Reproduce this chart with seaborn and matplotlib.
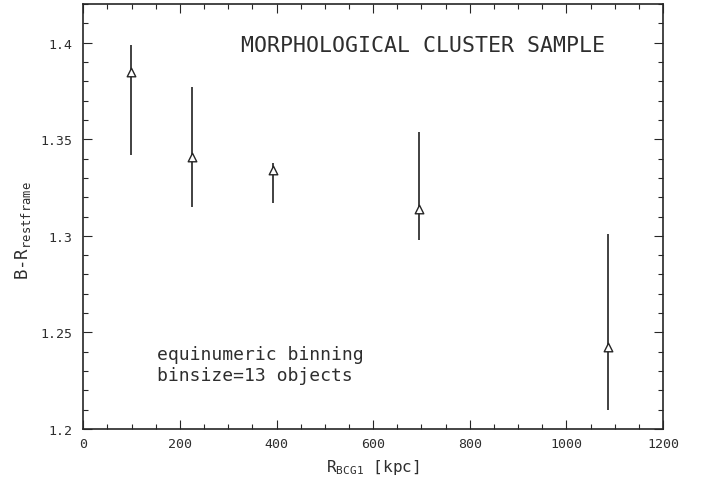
import matplotlib
matplotlib.use("Agg")
import matplotlib.pyplot as plt
from matplotlib.ticker import MultipleLocator, FixedFormatter, FixedLocator
import seaborn as sns
import pandas as pd

# Binned colour profile versus distance from the brightest cluster galaxy
r_bcg = [99, 226, 392, 695, 1086]
color_br = [1.385, 1.341, 1.334, 1.314, 1.2425]
err_hi = [1.399, 1.377, 1.3376, 1.3535, 1.301]
err_lo = [1.342, 1.315, 1.317, 1.298, 1.210]

y_ticks = [1.2, 1.25, 1.3, 1.35, 1.4]
y_tick_labels = ["1.2", "1.25", "1.3", "1.35", "1.4"]
x_ticks = [0, 200, 400, 600, 800, 1000, 1200]

df = pd.DataFrame({"r": r_bcg, "br": color_br, "hi": err_hi, "lo": err_lo})

sns.set_style("ticks")
plt.rcParams["font.family"] = ["DejaVu Sans Mono", "DejaVu Sans"]
plt.rcParams["mathtext.fontset"] = "custom"
plt.rcParams["mathtext.rm"] = "DejaVu Sans Mono"
plt.rcParams["mathtext.it"] = "DejaVu Sans Mono"

fig = plt.figure(figsize=(7.01, 4.81), dpi=100)
ax = fig.add_axes([0.1188, 0.106, 0.8270, 0.8836])

ink = "#262626"
txt = "#2e2e2e"
ax.vlines(df["r"], df["lo"], df["hi"], color="#333333", linewidth=1.3, zorder=2)
sns.scatterplot(data=df, x="r", y="br", ax=ax, marker="^", s=38,
                facecolor="white", edgecolor=ink, linewidth=1.0, zorder=3,
                legend=False)

ax.set_xlim(0, 1200)
ax.set_ylim(1.2, 1.42)
ax.xaxis.set_major_locator(FixedLocator(x_ticks))
ax.xaxis.set_minor_locator(MultipleLocator(50))
ax.yaxis.set_major_locator(FixedLocator(y_ticks))
ax.yaxis.set_major_formatter(FixedFormatter(y_tick_labels))
ax.yaxis.set_minor_locator(MultipleLocator(0.01))

ax.tick_params(which="both", direction="in", top=True, right=True,
               colors=ink, labelcolor=txt, labelsize=9.5, width=0.8)
ax.tick_params(which="major", length=6.5)
ax.tick_params(which="minor", length=3.5)
ax.tick_params(axis="y", which="major", pad=8)
ax.tick_params(axis="x", which="major", pad=6)
for s in ax.spines.values():
    s.set_linewidth(1.2)
    s.set_color(ink)

ax.set_xlabel(r"R$_{\mathrm{BCG1}}$ [kpc]", fontsize=11.5, color=txt, labelpad=5)
ax.set_ylabel(r"B-R$_{\mathrm{restframe}}$", fontsize=12.5, color=txt)
ax.yaxis.set_label_coords(-0.087, 0.47)

ax.text(0.272, 0.889, "MORPHOLOGICAL CLUSTER SAMPLE", transform=ax.transAxes,
        fontsize=15.5, color=txt, va="baseline", ha="left")
ax.text(0.127, 0.164, "equinumeric binning", transform=ax.transAxes,
        fontsize=13, color=txt, va="baseline", ha="left")
ax.text(0.127, 0.115, "binsize=13 objects", transform=ax.transAxes,
        fontsize=13, color=txt, va="baseline", ha="left")

fig.savefig("out.png", dpi=100)
